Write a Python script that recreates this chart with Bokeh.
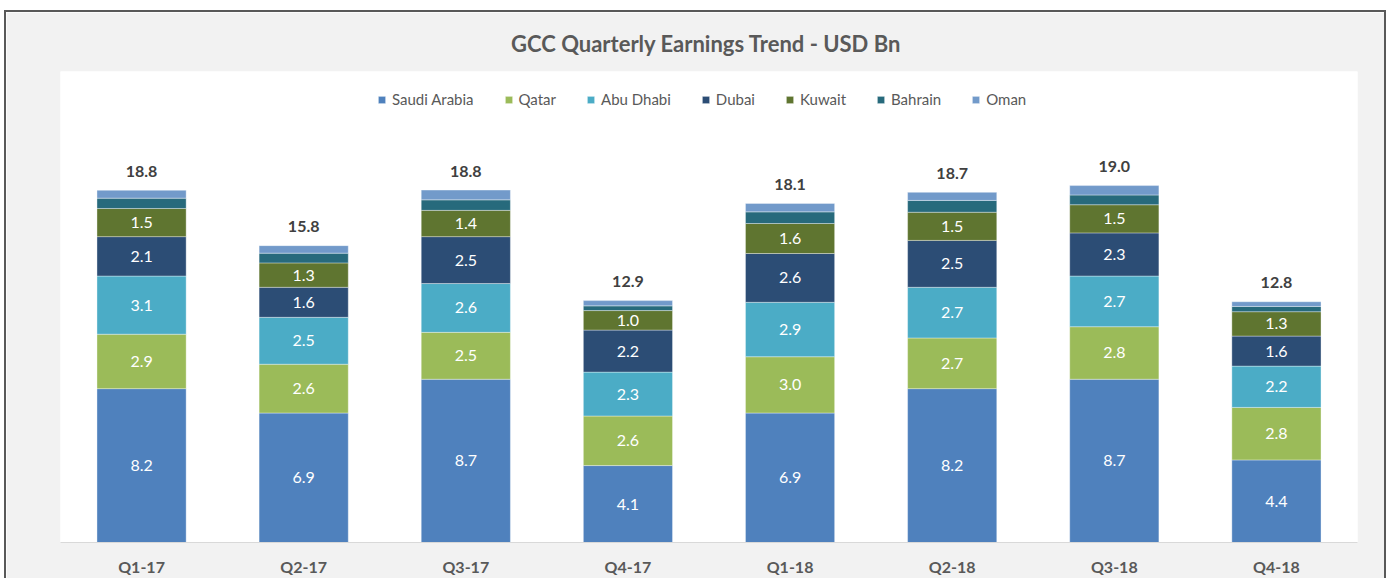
from bokeh.plotting import figure
from bokeh.models import FactorRange, Range1d, Legend, LegendItem, ColumnDataSource
from bokeh.core.properties import value
from bokeh.embed import file_html
from bokeh.resources import INLINE

categories = ["Q1-17", "Q2-17", "Q3-17", "Q4-17", "Q1-18", "Q2-18", "Q3-18", "Q4-18"]
saudi_arabia = [8.2, 6.9, 8.7, 4.1, 6.9, 8.2, 8.7, 4.4]
qatar = [2.9, 2.6, 2.5, 2.64, 3.0, 2.7, 2.8, 2.8]
abu_dhabi = [3.1, 2.5, 2.6, 2.34, 2.9, 2.7, 2.7, 2.2]
dubai = [2.1, 1.6, 2.5, 2.24, 2.6, 2.5, 2.3, 1.6]
kuwait = [1.5, 1.3, 1.4, 1.04, 1.6, 1.5, 1.5, 1.3]
bahrain = [0.55, 0.52, 0.56, 0.25, 0.62, 0.63, 0.52, 0.28]
oman = [0.42, 0.40, 0.52, 0.28, 0.45, 0.43, 0.50, 0.25]

series_names = ["Saudi Arabia", "Qatar", "Abu Dhabi", "Dubai", "Kuwait", "Bahrain", "Oman"]
series_values = [saudi_arabia, qatar, abu_dhabi, dubai, kuwait, bahrain, oman]
colors = ["#4F81BD", "#9BBB59", "#4BACC6", "#2C4D75", "#5F7530", "#276A7C", "#729ACA"]
labelled_series = 5

keys = ["s%d" % i for i in range(len(series_names))]
data = {"cat": categories}
for k, vals in zip(keys, series_values):
    data[k] = vals
source = ColumnDataSource(data)

p = figure(x_range=FactorRange(*categories), y_range=Range1d(0, 25.1),
           width=1378, height=566, output_backend="svg", toolbar_location=None,
           min_border_left=54, min_border_right=27, min_border_top=58,
           min_border_bottom=36, y_axis_location=None)
p.margin = (12, 0, 0, 6)
p.background_fill_color = "white"
p.border_fill_color = "#F2F2F2"
p.outline_line_color = None
p.xgrid.visible = False
p.ygrid.visible = False
p.styles = {"outline": "2px solid #595959"}

p.title.text = "GCC Quarterly  Earnings Trend - USD Bn"
p.title.align = "center"
p.title.text_font = "Lato"
p.title.text_font_size = "22px"
p.title.text_font_style = "bold"
p.title.text_color = "#595959"
p.title.standoff = 30

renderers = p.vbar_stack(keys, x="cat", width=0.55, source=source, color=colors,
                         line_color="white", line_width=0.6, line_alpha=0.6)

# segment labels
lx, ly, lt = [], [], []
for ci, cat in enumerate(categories):
    bottom = 0.0
    for si, vals in enumerate(series_values):
        v = vals[ci]
        if si < labelled_series:
            lx.append(cat)
            ly.append(bottom + v / 2.0)
            lt.append("%.1f" % v)
        bottom += v
p.text(x=lx, y=ly, text=lt, text_align="center", text_baseline="middle",
       text_color="white", text_font=value("Lato"), text_font_size="16px")

totals = [sum(vals[ci] for vals in series_values) for ci in range(len(categories))]
p.text(x=categories, y=totals, text=["%.1f" % t for t in totals], y_offset=-19,
       text_align="center", text_baseline="middle", text_color="#404040",
       text_font=value("Lato"), text_font_size="16px", text_font_style="bold")

ax = p.xaxis[0]
ax.axis_line_color = "#D9D9D9"
ax.axis_line_width = 1
ax.major_tick_line_color = None
ax.minor_tick_line_color = None
ax.major_tick_out = 0
ax.major_tick_in = 0
ax.major_label_standoff = 14
ax.major_label_text_font = "Lato"
ax.major_label_text_font_size = "16px"
ax.major_label_text_font_style = "bold"
ax.major_label_text_color = "#595959"

legend = Legend(items=[LegendItem(label=n, renderers=[r]) for n, r in zip(series_names, renderers)],
                orientation="horizontal", location=(317, 434), margin=0, padding=0,
                spacing=30, glyph_width=9, glyph_height=9, label_standoff=6,
                label_height=16, label_text_font="Lato", label_text_font_size="15px",
                label_text_color="#595959", border_line_color=None,
                background_fill_alpha=0)
p.add_layout(legend)

open("out.html", "w").write(file_html(p, INLINE))
